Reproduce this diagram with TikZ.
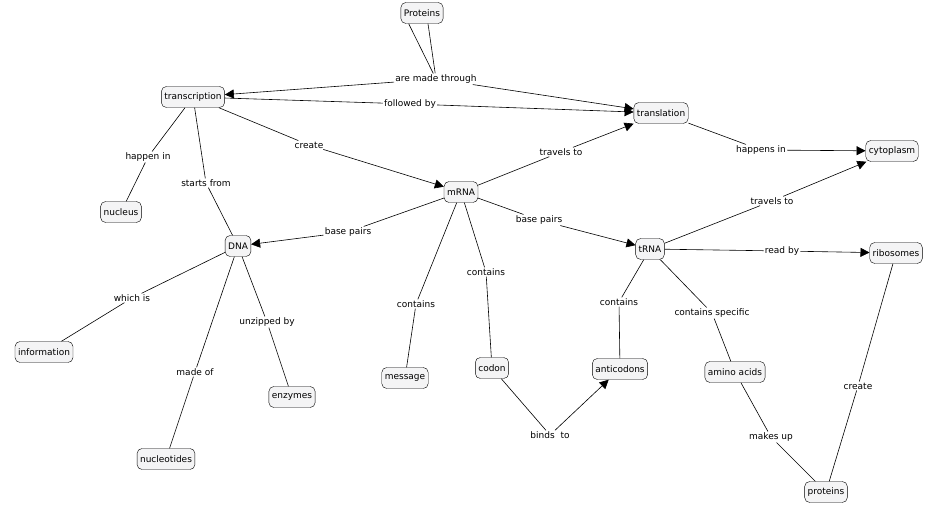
\documentclass[tikz,border=0pt]{standalone}
\usepackage{fontspec}
\setmainfont{DejaVu Sans}
\usetikzlibrary{arrows.meta}
\tikzset{
  concept/.style={draw=black, fill=blue!4!gray!8, rounded corners=5pt, inner sep=3pt, minimum height=21pt, font=\fontsize{9}{10}\selectfont},
  phrase/.style={fill=white, inner sep=1pt, font=\fontsize{9}{10}\selectfont},
  link/.style={draw=black, line width=0.6pt},
  to/.style={link, -{Triangle[length=9pt,width=9pt]}}
}
\begin{document}
\begin{tikzpicture}[x=1pt,y=-1pt]
\useasboundingbox (0,0) rectangle (938,510);

% concepts
\node[concept] (proteins) at (422,13) {Proteins};
\node[concept] (transcription) at (193,97) {transcription};
\node[concept] (translation) at (661,113) {translation};
\node[concept] (cytoplasm) at (892,151) {cytoplasm};
\node[concept] (nucleus) at (121,212) {nucleus};
\node[concept] (mrna) at (461,192) {mRNA};
\node[concept] (dna) at (238,246) {DNA};
\node[concept] (trna) at (650,249) {tRNA};
\node[concept] (ribosomes) at (896,253) {ribosomes};
\node[concept] (information) at (44,352) {information};
\node[concept] (message) at (405,378) {message};
\node[concept] (codon) at (492,368) {codon};
\node[concept] (anticodons) at (620,369) {anticodons};
\node[concept] (aminoacids) at (735,372) {amino acids};
\node[concept] (enzymes) at (292,397) {enzymes};
\node[concept] (nucleotides) at (166,459) {nucleotides};
\node[concept] (proteinsb) at (826,492) {proteins};

% linking phrases
\node[phrase] (madethrough) at (436,79) {are made through};
\node[phrase] (followed) at (410,104) {followed by};
\node[phrase] (happenin) at (148,157) {happen in};
\node[phrase] (startsfrom) at (206,183) {starts from};
\node[phrase] (create) at (309,145) {create};
\node[phrase] (travelsa) at (561,152) {travels to};
\node[phrase] (happensin) at (761,150) {happens in};
\node[phrase] (basepairsa) at (348,232) {base pairs};
\node[phrase] (basepairsb) at (539,220) {base pairs};
\node[phrase] (containsa) at (416,304) {contains};
\node[phrase] (containsb) at (486,272) {contains};
\node[phrase] (whichis) at (132,298) {which is};
\node[phrase] (madeof) at (195,372) {made of};
\node[phrase] (unzipped) at (267,322) {unzipped by};
\node[phrase] (binds) at (550,435) {binds\ \ to};
\node[phrase] (containsc) at (619,302) {contains};
\node[phrase] (specific) at (712,313) {contains specific};
\node[phrase] (travelsb) at (772,201) {travels to};
\node[phrase] (readby) at (782,251) {read by};
\node[phrase] (createb) at (858,386) {create};
\node[phrase] (makesup) at (771,437) {makes up};

% connectors
\draw[link] (proteins.south west) ++(8,0) -- (madethrough);
\draw[link] (proteins.south) ++(6,0) -- (madethrough);
\draw[to] (madethrough) -- (transcription);
\draw[to] (madethrough) -- (translation);
\draw[link] (transcription) -- (followed);
\draw[to] (followed) -- (translation);
\draw[link] (transcription) -- (happenin) -- (nucleus);
\draw[link] (transcription) -- (startsfrom) -- (dna);
\draw[link] (transcription) -- (create);
\draw[to] (create) -- (mrna);
\draw[link] (mrna) -- (travelsa);
\draw[to] (travelsa) -- (translation);
\draw[link] (translation) -- (happensin);
\draw[to] (happensin) -- (cytoplasm);
\draw[link] (mrna) -- (basepairsa);
\draw[to] (basepairsa) -- (dna);
\draw[link] (mrna) -- (basepairsb);
\draw[to] (basepairsb) -- (trna);
\draw[link] (mrna) -- (containsa) -- (message);
\draw[link] (mrna) -- (containsb) -- (codon);
\draw[link] (dna) -- (whichis) -- (information);
\draw[link] (dna) -- (madeof) -- (nucleotides);
\draw[link] (dna) -- (unzipped) -- (enzymes);
\draw[link] (codon) -- (binds);
\draw[to] (binds) -- (anticodons);
\draw[link] (trna) -- (containsc) -- (anticodons);
\draw[link] (trna) -- (specific) -- (aminoacids);
\draw[link] (trna) -- (travelsb);
\draw[to] (travelsb) -- (cytoplasm);
\draw[link] (trna) -- (readby);
\draw[to] (readby) -- (ribosomes);
\draw[link] (ribosomes) -- (createb) -- (proteinsb);
\draw[link] (aminoacids) -- (makesup) -- (proteinsb);
\end{tikzpicture}
\end{document}
